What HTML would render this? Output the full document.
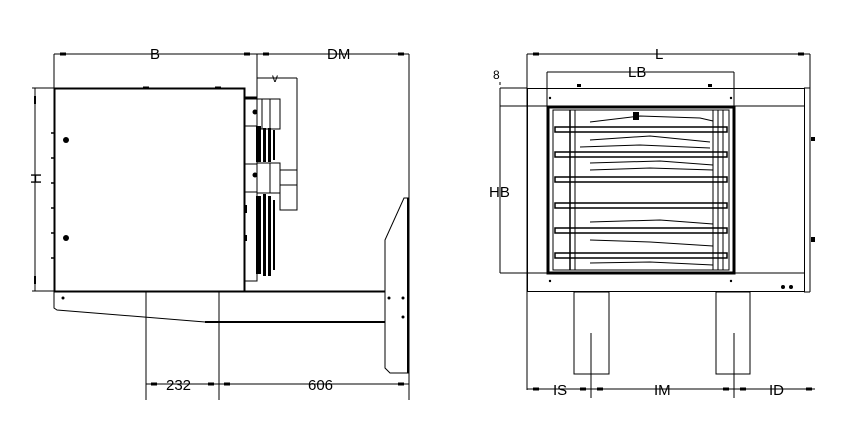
<!DOCTYPE html>
<html><head><meta charset="utf-8"><style>
html,body{margin:0;padding:0;background:#fff;}
svg{display:block}
text{font-family:"Liberation Sans",sans-serif;font-size:15px;fill:#000}
</style></head><body>
<svg width="854" height="437" viewBox="0 0 854 437" xmlns="http://www.w3.org/2000/svg">
<g stroke="#000" fill="none" stroke-width="1">
<!-- LEFT VIEW -->
<!-- B / DM dims -->
<line x1="54" y1="54" x2="409" y2="54"/>
<line x1="54" y1="54" x2="54" y2="88"/>
<line x1="257" y1="54" x2="257" y2="99"/>
<line x1="409" y1="54" x2="409" y2="400"/>
<g stroke-width="3"><line x1="60" y1="54" x2="66" y2="54"/><line x1="244" y1="54" x2="250" y2="54"/><line x1="263" y1="54" x2="269" y2="54"/><line x1="398" y1="54" x2="404" y2="54"/></g>
<!-- v dim -->
<line x1="257" y1="78" x2="297" y2="78"/>
<line x1="297" y1="78" x2="297" y2="210"/>
<!-- main box -->
<rect x="54.5" y="88.5" width="190" height="203" stroke-width="2"/>
<g stroke-width="3"><line x1="143" y1="88" x2="149" y2="88"/><line x1="215" y1="88" x2="221" y2="88"/></g>
<!-- H dim -->
<line x1="35" y1="88" x2="35" y2="291"/>
<line x1="32" y1="88" x2="54" y2="88"/>
<line x1="32" y1="291" x2="54" y2="291"/>
<g stroke-width="2"><line x1="35" y1="96" x2="35" y2="104"/><line x1="35" y1="276" x2="35" y2="284"/></g>
<g stroke-width="1.5"><line x1="51" y1="133" x2="54" y2="133"/><line x1="51" y1="158" x2="54" y2="158"/><line x1="51" y1="183" x2="54" y2="183"/><line x1="51" y1="208" x2="54" y2="208"/><line x1="51" y1="233" x2="54" y2="233"/><line x1="51" y1="258" x2="54" y2="258"/></g>
<!-- motor/fan assembly -->
<rect x="245" y="98" width="12" height="28"/>
<rect x="245" y="126" width="12" height="38"/>
<rect x="245" y="164" width="12" height="28"/>
<rect x="245" y="192" width="12" height="89"/>
<rect x="257" y="99" width="13" height="30"/>
<rect x="262" y="99" width="8" height="30"/>
<rect x="270" y="99" width="10" height="30"/>
<rect x="257" y="163" width="13" height="30"/>
<rect x="270" y="163" width="10" height="30"/>
<rect x="280" y="170" width="17" height="40"/>
<line x1="280" y1="185" x2="297" y2="185"/>
<line x1="245" y1="98" x2="257" y2="98" stroke-width="3"/>
</g>
<g fill="#000">
<rect x="256" y="126" width="5" height="36"/><rect x="263" y="128" width="3" height="34"/><rect x="268" y="128" width="3" height="34"/><rect x="273" y="130" width="2" height="30"/>
<rect x="256" y="196" width="5" height="78"/><rect x="263" y="194" width="3" height="82"/><rect x="268" y="196" width="3" height="80"/><rect x="273" y="200" width="2" height="70"/>
<circle cx="255" cy="112" r="2.5"/><circle cx="255" cy="175" r="2.5"/>
<circle cx="66" cy="140" r="3"/><circle cx="66" cy="238" r="3"/>
<rect x="245" y="205" width="2" height="8"/><rect x="245" y="235" width="2" height="6"/>
<circle cx="63" cy="298" r="1.5"/><circle cx="389" cy="298" r="1.5"/><circle cx="403" cy="298" r="1.5"/><circle cx="403" cy="317" r="1.5"/>
</g>
<g stroke="#000" fill="none" stroke-width="1">
<!-- bracket -->
<line x1="244" y1="291.5" x2="385" y2="291.5" stroke-width="2"/>
<polyline points="54,291 54,308 57,310 205,322"/>
<line x1="205" y1="322" x2="385" y2="322" stroke-width="2"/>
<polyline points="409,198 404,198 385,240 385,368 390,373 409,373"/>
<line x1="408" y1="198" x2="408" y2="373" stroke-width="2"/>
<!-- bottom dims -->
<line x1="146" y1="291" x2="146" y2="400"/>
<line x1="219" y1="291" x2="219" y2="400"/>
<line x1="146" y1="384" x2="409" y2="384"/>
<g stroke-width="3"><line x1="151" y1="384" x2="157" y2="384"/><line x1="208" y1="384" x2="214" y2="384"/><line x1="224" y1="384" x2="230" y2="384"/><line x1="398" y1="384" x2="404" y2="384"/></g>

<!-- RIGHT VIEW -->
<line x1="527" y1="54" x2="810" y2="54"/>
<line x1="527" y1="54" x2="527" y2="390"/>
<line x1="810" y1="54" x2="810" y2="88"/>
<g stroke-width="3"><line x1="533" y1="54" x2="539" y2="54"/><line x1="798" y1="54" x2="804" y2="54"/></g>
<line x1="547" y1="72" x2="734" y2="72"/>
<line x1="547" y1="72" x2="547" y2="106"/>
<line x1="734" y1="72" x2="734" y2="106"/>
<!-- body -->
<rect x="527.5" y="88.5" width="277" height="203"/>
<line x1="804" y1="88" x2="810" y2="88"/><line x1="810" y1="88" x2="810" y2="292"/><line x1="804" y1="292" x2="810" y2="292"/>
<line x1="500" y1="106" x2="804" y2="106"/>
<line x1="527" y1="273" x2="804" y2="273"/>
<line x1="500" y1="88" x2="527" y2="88"/>
<line x1="500" y1="273" x2="527" y2="273"/>
<line x1="500" y1="88" x2="500" y2="273"/>
<line x1="500" y1="82" x2="500" y2="104" stroke-dasharray="3,3"/>
<!-- grille -->
<rect x="548" y="107" width="186" height="166" stroke-width="3"/>
<rect x="553" y="110" width="176" height="160"/>
<line x1="570" y1="110" x2="570" y2="270" stroke-width="1.5"/>
<line x1="575" y1="110" x2="575" y2="270"/>
<line x1="713" y1="110" x2="713" y2="270"/>
<line x1="718" y1="110" x2="718" y2="270"/>
<line x1="723" y1="110" x2="723" y2="270"/>
<g stroke-width="1.5">
<rect x="555" y="127" width="172" height="5"/>
<rect x="555" y="152" width="172" height="5"/>
<rect x="555" y="177" width="172" height="5"/>
<rect x="555" y="203" width="172" height="5"/>
<rect x="555" y="228" width="172" height="5"/>
<rect x="555" y="253" width="172" height="5"/>
</g>
<g stroke-width="1">
<polyline points="590,122 640,116 700,118 713,121"/>
<polyline points="590,140 650,136 710,142"/>
<polyline points="580,147 640,145 710,148"/>
<polyline points="590,163 660,161 713,165"/>
<polyline points="590,170 650,168 713,170"/>
<polyline points="590,222 660,220 713,224"/>
<polyline points="590,240 650,242 713,246"/>
<polyline points="590,263 650,262 713,265"/>
</g>
<!-- legs -->
<rect x="574" y="292" width="35" height="82"/>
<rect x="716" y="292" width="34" height="82"/>
<line x1="591" y1="333" x2="591" y2="398"/>
<line x1="734" y1="333" x2="734" y2="398"/>
<line x1="527" y1="389" x2="815" y2="389"/>
<g stroke-width="3"><line x1="533" y1="389" x2="539" y2="389"/><line x1="580" y1="389" x2="586" y2="389"/><line x1="597" y1="389" x2="603" y2="389"/><line x1="723" y1="389" x2="729" y2="389"/><line x1="740" y1="389" x2="746" y2="389"/><line x1="806" y1="389" x2="812" y2="389"/></g>
</g>
<g fill="#000">
<circle cx="550" cy="98" r="1.2"/><circle cx="731" cy="98" r="1.2"/>
<rect x="577" y="84" width="4" height="3"/><rect x="708" y="84" width="4" height="3"/>
<circle cx="550" cy="281" r="1.2"/><circle cx="731" cy="281" r="1.2"/>
<circle cx="783" cy="287" r="2"/><circle cx="791" cy="287" r="2"/>
<rect x="811" y="137" width="4" height="4"/><rect x="811" y="237" width="4" height="5"/>
<rect x="633" y="112" width="6" height="8"/>
</g>
<text x="150" y="59">B</text>
<text x="327" y="59">DM</text>
<text x="272" y="82" style="font-size:12px">v</text>
<text x="40" y="197" transform="rotate(-90 34 190)" style="font-size:15px">H</text>
<text x="166" y="390">232</text>
<text x="308" y="390">606</text>
<text x="655" y="59">L</text>
<text x="628" y="77">LB</text>
<text x="493" y="79" style="font-size:12px">8</text>
<text x="489" y="197">HB</text>
<text x="553" y="395">IS</text>
<text x="654" y="395">IM</text>
<text x="769" y="395">ID</text>
</svg>
</body></html>
